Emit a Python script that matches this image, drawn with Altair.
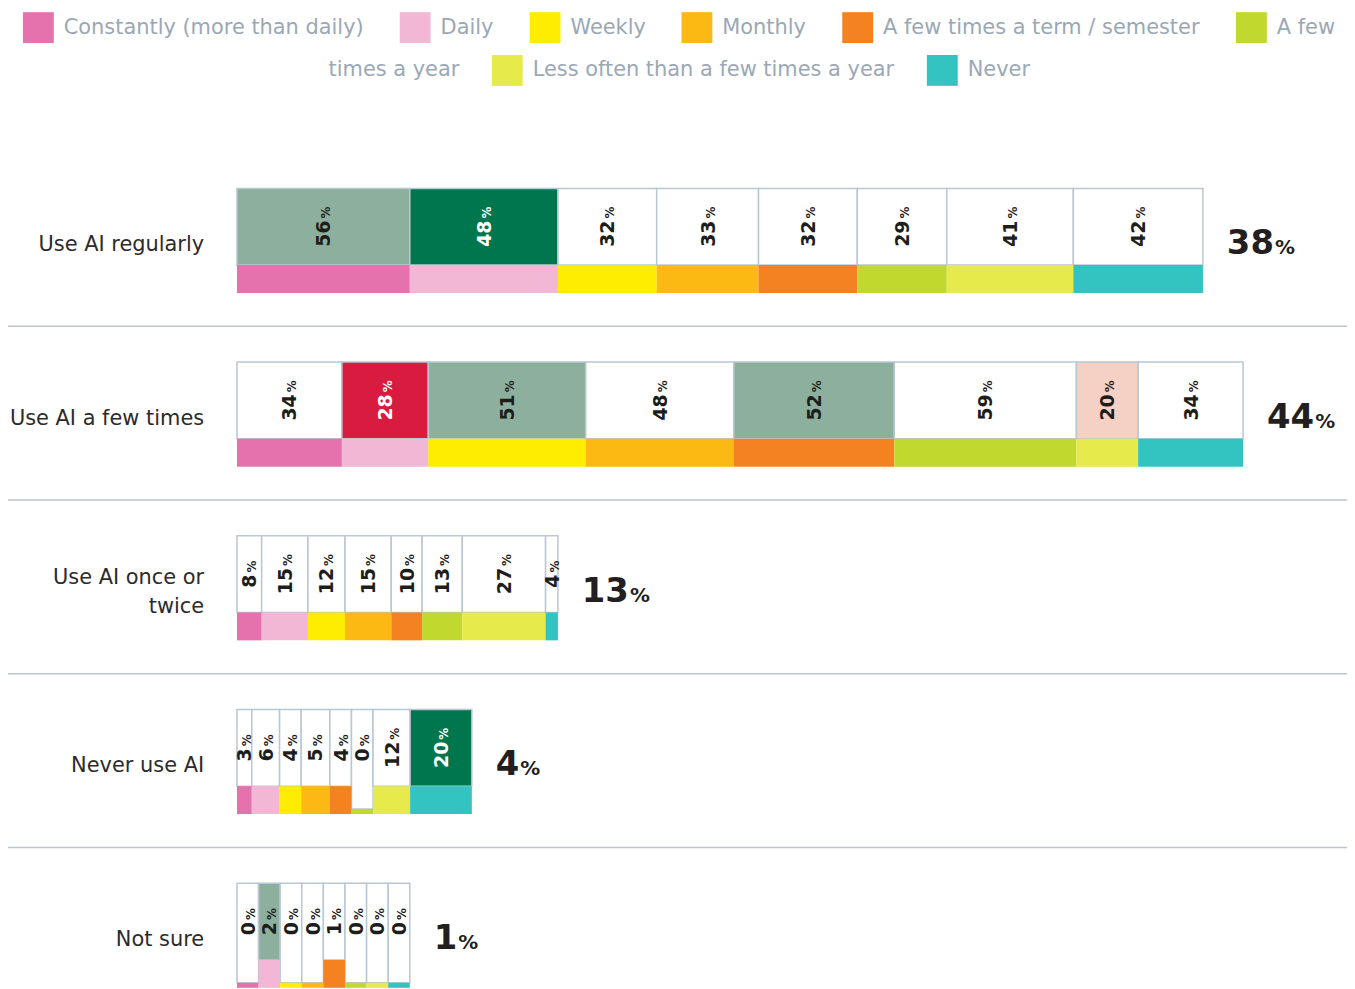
import altair as alt
import pandas as pd

# ---------------- data ----------------
categories = [
    "Constantly (more than daily)",
    "Daily",
    "Weekly",
    "Monthly",
    "A few times a term / semester",
    "A few times a year",
    "Less often than a few times a year",
    "Never",
]
cat_colors = ["#e572ad", "#f1b7d5", "#ffed00", "#fdb913", "#f58220", "#c1d82f", "#e6ea4a", "#33c3c0"]

rows = ["Use AI regularly", "Use AI a few times", "Use AI once or\ntwice", "Never use AI", "Not sure"]
row_totals = [38, 44, 13, 4, 1]

values_regular = [56, 48, 32, 33, 32, 29, 41, 42]
values_few = [34, 28, 51, 48, 52, 59, 20, 34]
values_once = [8, 15, 12, 15, 10, 13, 27, 4]
values_never = [3, 6, 4, 5, 4, 0, 12, 20]
values_unsure = [0, 2, 0, 0, 1, 0, 0, 0]

# column widths (share units)
widths_regular = [56, 48, 32, 33, 32, 29, 41, 42]
widths_few = [34, 28, 51, 48, 52, 59, 20, 34]
widths_once = [8, 15, 12, 15, 10, 13, 27, 4]
widths_never = [4.8, 9, 7, 9.3, 7, 7, 12, 20]
widths_unsure = [7, 7, 7, 7, 7, 7, 7, 7]

# significance flags
flags_regular = ["up", "up2", "", "", "", "", "", ""]
flags_few = ["", "down2", "up", "", "up", "", "down", ""]
flags_once = ["", "", "", "", "", "", "", ""]
flags_never = ["", "", "", "", "", "", "", "up2"]
flags_unsure = ["", "up", "", "", "", "", "", ""]

values = [values_regular, values_few, values_once, values_never, values_unsure]
widths = [widths_regular, widths_few, widths_once, widths_never, widths_unsure]
flags = [flags_regular, flags_few, flags_once, flags_never, flags_unsure]

# ---------------- style ----------------
FLAG_FILL = {"": "#ffffff", "up": "#8db09e", "up2": "#00764f", "down": "#f5d0c5", "down2": "#d81b3f"}
FLAG_TEXT = {"": "#1d1d1b", "up": "#1d1d1b", "up2": "#ffffff", "down": "#1d1d1b", "down2": "#ffffff"}
BORDER = "#b9c7d4"
FONT = "DejaVu Sans"

PX = 3.1          # pixels per share unit
BAND = 174.5      # pixels per row band
W = 1115
H = 838
TOP_GAP = 36
BOX_H = 77
STRIP_H = 28
THIN = 5
LINE_H = 30

recs = []
tot = []
for i, row in enumerate(rows):
    x = 0.0
    for j, cat in enumerate(categories):
        v = values[i][j]
        w = widths[i][j]
        f = flags[i][j]
        strip_bottom = TOP_GAP + BOX_H + STRIP_H
        strip_top = TOP_GAP + BOX_H if v > 0 else strip_bottom - THIN
        ndig = len(str(v))
        num_len = ndig * 0.696 * 19
        pct_len = 12.0
        junction = TOP_GAP + BOX_H / 2 - (num_len - pct_len) / 2
        recs.append(dict(
            row=row, cat=cat, cat_idx=j, value=str(v),
            x0=x, x1=x + w, xm=x + w / 2,
            yb0=i + TOP_GAP / BAND, yb1=i + strip_top / BAND,
            ys1=i + strip_bottom / BAND, yj=i + junction / BAND,
            fill=FLAG_FILL[f], tcolor=FLAG_TEXT[f],
        ))
        x += w
    nd = len(str(row_totals[i]))
    nlines = row.count("\n") + 1
    tot.append(dict(
        row=row, total=str(row_totals[i]), xend=x,
        pct_x=x + (24 + nd * 23.7 + 1) / PX,
        yt=i + (TOP_GAP + 66) / BAND,
        yl=i + (TOP_GAP + 57 - (nlines - 1) * LINE_H / 2) / BAND,
    ))

df = pd.DataFrame(recs)
dft = pd.DataFrame(tot)
dfs = pd.DataFrame({"ysep": [1, 2, 3, 4]})

xs = alt.Scale(domain=[0, W / PX], nice=False, zero=False)
ys = alt.Scale(domain=[0, H / BAND], nice=False, zero=False, reverse=True)

base = alt.Chart(df)

boxes = base.mark_rect(stroke=BORDER, strokeWidth=1.5).encode(
    x=alt.X("x0:Q", scale=xs, axis=None),
    x2="x1:Q",
    y=alt.Y("yb0:Q", scale=ys, axis=None),
    y2="yb1:Q",
    color=alt.Color("fill:N", scale=None),
)

legend_common = dict(
    title=None, orient="none", direction="horizontal", gridAlign="none",
    symbolType="square", symbolSize=961, symbolStrokeWidth=0,
    labelFont=FONT, labelFontSize=21, labelColor="#9aa8b5",
    labelOffset=10, labelLimit=800,
)

strips_a = base.transform_filter("datum.cat_idx < 6").mark_rect().encode(
    x=alt.X("x0:Q", scale=xs, axis=None),
    x2="x1:Q",
    y=alt.Y("yb1:Q", scale=ys, axis=None),
    y2="ys1:Q",
    color=alt.Color(
        "cat:N",
        scale=alt.Scale(domain=categories[:6], range=cat_colors[:6]),
        legend=alt.Legend(
            legendX=-215, legendY=-141, columns=6, columnPadding=35.5,
            labelExpr="datum.label == 'A few times a year' ? 'A few' : datum.label",
            **legend_common,
        ),
    ),
)

strips_b = base.transform_filter("datum.cat_idx >= 6").mark_rect().encode(
    x=alt.X("x0:Q", scale=xs, axis=None),
    x2="x1:Q",
    y=alt.Y("yb1:Q", scale=ys, axis=None),
    y2="ys1:Q",
    color=alt.Color(
        "cat:N",
        scale=alt.Scale(domain=["times a year"] + categories[6:],
                        range=["rgba(255,255,255,0)"] + cat_colors[6:]),
        legend=alt.Legend(legendX=51, legendY=-98, columns=3, columnPadding=32,
                          **legend_common),
    ),
)

num_text = base.mark_text(
    angle=270, align="right", baseline="alphabetic", dx=-1, dy=7,
    font=FONT, fontSize=19, fontWeight="bold",
).encode(
    x=alt.X("xm:Q", scale=xs, axis=None),
    y=alt.Y("yj:Q", scale=ys, axis=None),
    text="value:N",
    color=alt.Color("tcolor:N", scale=None),
)

pct_text = base.mark_text(
    angle=270, align="left", baseline="alphabetic", dx=1, dy=7,
    font=FONT, fontSize=12, fontWeight="bold",
).encode(
    x=alt.X("xm:Q", scale=xs, axis=None),
    y=alt.Y("yj:Q", scale=ys, axis=None),
    text=alt.value("%"),
    color=alt.Color("tcolor:N", scale=None),
)

tbase = alt.Chart(dft)

row_labels = tbase.mark_text(
    align="right", baseline="middle", font=FONT, fontSize=21,
    color="#2b2b2b", lineBreak="\n", lineHeight=LINE_H,
).encode(
    x=alt.value(-33),
    y=alt.Y("yl:Q", scale=ys, axis=None),
    text="row:N",
)

tot_num = tbase.mark_text(
    align="left", baseline="alphabetic", dx=24, font=FONT, fontSize=34,
    fontWeight="bold", color="#231f20",
).encode(
    x=alt.X("xend:Q", scale=xs, axis=None),
    y=alt.Y("yt:Q", scale=ys, axis=None),
    text="total:N",
)

tot_pct = tbase.mark_text(
    align="left", baseline="alphabetic", font=FONT, fontSize=20,
    fontWeight="bold", color="#231f20",
).encode(
    x=alt.X("pct_x:Q", scale=xs, axis=None),
    y=alt.Y("yt:Q", scale=ys, axis=None),
    text=alt.value("%"),
)

seps = alt.Chart(dfs).mark_rule(color=BORDER, strokeWidth=1.5).encode(
    y=alt.Y("ysep:Q", scale=ys, axis=None),
    x=alt.value(-230),
    x2=alt.value(W),
)

chart = alt.layer(
    seps, boxes, strips_a, strips_b, num_text, pct_text, row_labels, tot_num, tot_pct
).resolve_scale(color="independent").properties(
    width=W, height=H,
    padding={"left": 230, "top": 143, "right": 0, "bottom": 0},
    autosize=alt.AutoSizeParams(type="none"),
).configure_view(stroke=None)

chart.save("out.html", embed_options={"renderer": "svg", "actions": False})
